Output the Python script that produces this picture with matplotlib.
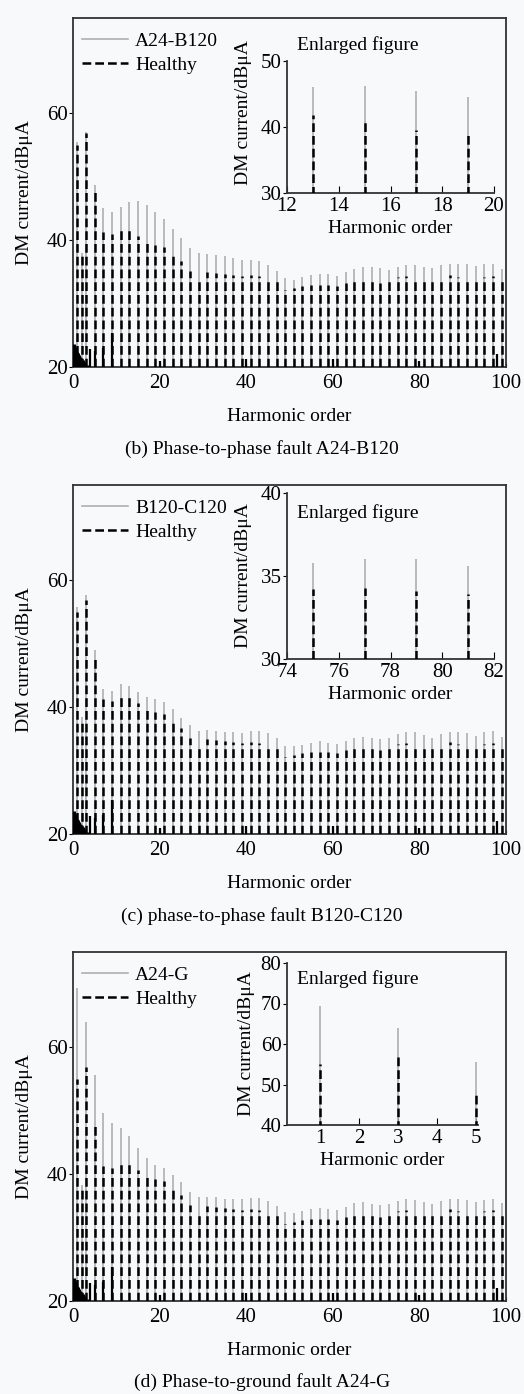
import numpy as np
import matplotlib
matplotlib.use('Agg')
import matplotlib.pyplot as plt

plt.rcParams['font.family'] = ['Liberation Serif', 'DejaVu Serif']
plt.rcParams['font.size'] = 14
plt.rcParams['xtick.labelsize'] = 15
plt.rcParams['ytick.labelsize'] = 15

# harmonic orders carrying the main stems
orders = np.r_[1, 2, np.arange(3, 100, 2)]

# healthy (same reference spectrum in every panel)
healthy = [55.0, 38.0, 56.8, 48.0, 41.2, 41.0, 41.7, 41.8, 40.7, 39.6,
           39.2, 38.9, 37.6, 36.7, 35.1, 34.1, 35.0, 34.8, 34.7, 34.5,
           34.4, 34.5, 34.3, 34.1, 33.5, 32.2, 32.4, 32.7, 33.0, 32.9,
           33.0, 32.7, 33.2, 33.8, 33.8, 33.5, 33.2, 33.7, 34.2, 34.3,
           34.1, 33.9, 33.5, 33.9, 34.5, 34.2, 34.1, 33.7, 34.2, 34.4, 33.5]

# fault spectra
fault_ab = [55.5, 38.0, 57.0, 48.7, 45.0, 44.5, 45.2, 46.0, 46.2, 45.5,
            44.5, 43.4, 41.8, 40.3, 38.8, 37.9, 37.8, 37.6, 37.5, 37.1,
            36.8, 36.8, 36.7, 36.0, 35.1, 34.1, 33.7, 34.2, 34.5, 34.7,
            34.6, 34.4, 35.0, 35.5, 35.8, 35.8, 35.6, 35.3, 35.8, 36.0,
            36.0, 35.8, 35.6, 36.0, 36.2, 36.3, 36.2, 35.9, 36.2, 36.3, 35.5]
fault_bc = [55.8, 38.4, 57.6, 49.0, 42.9, 42.6, 43.7, 43.3, 42.4, 41.6,
            41.2, 40.8, 39.7, 38.3, 37.1, 36.2, 36.4, 36.3, 36.0, 36.0,
            35.9, 36.3, 36.3, 35.9, 35.1, 33.9, 33.8, 34.1, 34.4, 34.6,
            34.4, 34.2, 34.7, 35.1, 35.3, 35.1, 35.0, 35.1, 35.8, 36.0,
            36.0, 35.6, 35.2, 35.7, 36.0, 36.0, 35.9, 35.5, 36.0, 36.2, 35.3]
fault_ag = [69.4, 38.3, 64.0, 55.6, 49.7, 48.1, 47.3, 46.0, 44.1, 42.5,
            41.5, 41.0, 39.9, 38.7, 37.2, 36.4, 36.4, 36.4, 36.1, 36.0,
            36.0, 36.2, 36.2, 35.8, 35.0, 34.0, 33.8, 34.2, 34.5, 34.6,
            34.5, 34.3, 34.8, 35.4, 35.6, 35.3, 35.2, 35.3, 35.8, 36.0,
            35.9, 35.6, 35.3, 35.8, 36.0, 36.0, 35.9, 35.6, 35.9, 36.0, 35.5]

# low-frequency content and small residual stems
lf_orders = [0.15, 0.3, 0.45, 0.6, 0.75, 0.9, 1.2, 1.4, 1.6, 1.8, 2.2, 2.5, 2.8, 3.2]
lf_values = [23.6, 23.4, 23.1, 22.9, 22.7, 22.4, 22.2, 21.9, 21.6, 21.4, 21.1, 20.8, 20.6, 20.3]
small_orders = [4, 5, 7, 9, 20, 40, 60, 80, 98]
small_values = [22.8, 22.5, 23.0, 25.3, 21.0, 21.3, 21.3, 21.0, 22.0]

fault_names = ['A24-B120', 'B120-C120', 'A24-G']
fault_data = [fault_ab, fault_bc, fault_ag]
captions = ['(b) Phase-to-phase fault A24-B120',
            '(c) phase-to-phase fault B120-C120',
            '(d) Phase-to-ground fault A24-G']
inset_xlim = [(12, 20), (74, 82), (0.15, 5.05)]
inset_ylim = [(30, 50), (30, 40), (40, 80)]
inset_xticks = [[12, 14, 16, 18, 20], [74, 76, 78, 80, 82], [1, 2, 3, 4, 5]]
inset_yticks = [[30, 40, 50], [30, 35, 40], [40, 50, 60, 70, 80]]

bg = '#f7f9fb'
gray = '#a9a9ad'
dash = (0, (3.5, 1.6))
W, H = 524, 1394

fig = plt.figure(figsize=(W / 100, H / 100), dpi=100, facecolor=bg)


def frac(left, top, right, bottom):
    return [left / W, 1 - bottom / H, (right - left) / W, (bottom - top) / H]


main_top = [18, 485, 952]
inset_px = [(287, 61, 494, 193), (287, 493, 494, 659), (287, 963, 478, 1125)]
ylab_y = [0.61, 0.5, 0.5]
text_y = [1.12, 0.88, 0.9]
cap_y = [449, 916, 1382]

for k in range(3):
    top = main_top[k]
    ax = fig.add_axes(frac(73, top, 506, top + 349))
    ax.set_facecolor(bg)
    ax.vlines(orders, 20, fault_data[k], color=gray, lw=1.1, zorder=2)
    ax.vlines(orders, 20, healthy, color='black', lw=1.8, linestyles=dash, zorder=3)
    ax.vlines(lf_orders, 20, lf_values, color='black', lw=2.2, zorder=3)
    ax.vlines(small_orders, 20, small_values, color='black', lw=1.6, zorder=3)
    ax.set_xlim(0, 100)
    ax.set_ylim(20, 75)
    ax.set_xticks([0, 20, 40, 60, 80, 100])
    ax.set_yticks([20, 40, 60])
    ax.tick_params(axis='x', direction='in', length=3, pad=5)
    ax.tick_params(axis='y', direction='out', length=3, pad=1)
    for s in ax.spines.values():
        s.set_linewidth(1.3)
        s.set_color('#333333')
    ax.set_xlabel('Harmonic order', labelpad=11)
    ax.set_ylabel('DM current/dBμA', labelpad=10)
    ax.plot([], [], color=gray, lw=1.1, label=fault_names[k])
    ax.plot([], [], color='black', lw=1.8, ls=dash, label='Healthy')
    ax.legend(loc='upper left', bbox_to_anchor=(0.02, 0.96), frameon=False,
              handlelength=2.4, handletextpad=0.35, labelspacing=0.35,
              borderpad=0, borderaxespad=0)

    # enlarged view
    l, t, r, b = inset_px[k]
    ins = fig.add_axes(frac(l, t, r, b))
    ins.set_facecolor(bg)
    ins.vlines(orders, 20, fault_data[k], color=gray, lw=1.1, zorder=2)
    ins.vlines(orders, 20, healthy, color='black', lw=1.8, linestyles=dash, zorder=3)
    ins.set_xlim(*inset_xlim[k])
    ins.set_ylim(*inset_ylim[k])
    ins.set_xticks(inset_xticks[k])
    ins.set_yticks(inset_yticks[k])
    ins.spines['top'].set_visible(False)
    ins.spines['right'].set_visible(False)
    for s in ['left', 'bottom']:
        ins.spines[s].set_linewidth(1.3)
        ins.spines[s].set_color('#333333')
    ins.tick_params(axis='x', direction='in', length=5, pad=3)
    ins.tick_params(axis='y', direction='out', length=3, pad=1)
    ins.set_xlabel('Harmonic order', labelpad=3)
    ins.set_ylabel('DM current/dBμA')
    ins.yaxis.set_label_coords(-0.17, ylab_y[k])
    ins.text(0.05, text_y[k], 'Enlarged figure', transform=ins.transAxes,
             va='center', ha='left')

    fig.text(0.5, 1 - cap_y[k] / H, captions[k], ha='center', va='center')

fig.savefig('out.png', dpi=100, facecolor=bg)
